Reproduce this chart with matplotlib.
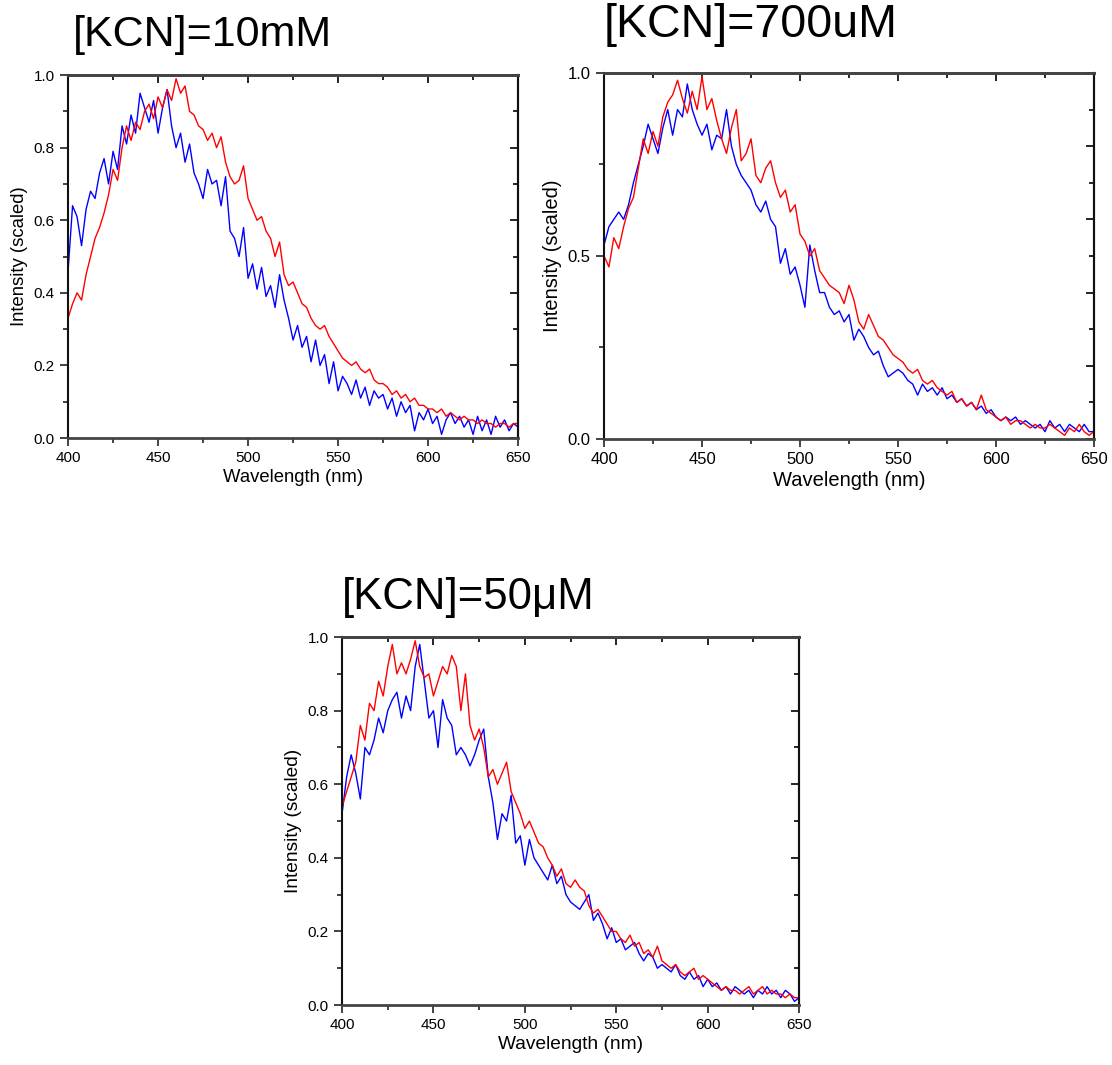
import numpy as np
import matplotlib
matplotlib.use("Agg")
import matplotlib.pyplot as plt
from matplotlib.ticker import MultipleLocator

plt.rcParams['font.family'] = ['Liberation Sans', 'DejaVu Sans']

# wavelength grid (nm), one sample every 2.5 nm
wavelength = np.arange(400, 650.1, 2.5)

# [KCN]=10mM
blue_10mM = [0.46, 0.64, 0.61, 0.53, 0.63, 0.68, 0.66, 0.73, 0.77, 0.70,
             0.79, 0.74, 0.86, 0.81, 0.89, 0.84, 0.95, 0.91, 0.87, 0.93,
             0.84, 0.91, 0.96, 0.86, 0.80, 0.84, 0.76, 0.81, 0.73, 0.70,
             0.66, 0.74, 0.70, 0.71, 0.64, 0.72, 0.57, 0.55, 0.50, 0.58,
             0.44, 0.48, 0.41, 0.47, 0.39, 0.42, 0.36, 0.45, 0.38, 0.33,
             0.27, 0.31, 0.25, 0.28, 0.21, 0.27, 0.20, 0.23, 0.15, 0.21,
             0.13, 0.17, 0.15, 0.12, 0.16, 0.11, 0.14, 0.09, 0.13, 0.11,
             0.12, 0.08, 0.11, 0.06, 0.10, 0.07, 0.09, 0.02, 0.07, 0.05,
             0.08, 0.04, 0.06, 0.01, 0.05, 0.07, 0.04, 0.06, 0.03, 0.05,
             0.01, 0.06, 0.02, 0.05, 0.01, 0.06, 0.03, 0.05, 0.02, 0.04,
             0.03]
red_10mM = [0.33, 0.37, 0.40, 0.38, 0.45, 0.50, 0.55, 0.58, 0.62, 0.67,
            0.74, 0.71, 0.80, 0.86, 0.82, 0.87, 0.85, 0.90, 0.92, 0.88,
            0.94, 0.91, 0.96, 0.93, 0.99, 0.95, 0.97, 0.90, 0.89, 0.86,
            0.85, 0.82, 0.84, 0.80, 0.83, 0.76, 0.72, 0.70, 0.71, 0.75,
            0.66, 0.63, 0.60, 0.61, 0.57, 0.55, 0.50, 0.54, 0.45, 0.42,
            0.43, 0.40, 0.37, 0.36, 0.33, 0.31, 0.30, 0.31, 0.28, 0.26,
            0.24, 0.22, 0.21, 0.20, 0.21, 0.19, 0.18, 0.19, 0.16, 0.15,
            0.15, 0.14, 0.12, 0.13, 0.11, 0.12, 0.10, 0.11, 0.09, 0.09,
            0.08, 0.08, 0.07, 0.08, 0.06, 0.07, 0.06, 0.05, 0.06, 0.05,
            0.05, 0.04, 0.05, 0.04, 0.04, 0.03, 0.04, 0.04, 0.03, 0.04,
            0.04]

# [KCN]=700uM
blue_700uM = [0.53, 0.58, 0.60, 0.62, 0.60, 0.64, 0.70, 0.75, 0.80, 0.86,
              0.82, 0.78, 0.85, 0.90, 0.83, 0.90, 0.88, 0.97, 0.90, 0.86,
              0.83, 0.86, 0.79, 0.83, 0.82, 0.90, 0.80, 0.75, 0.72, 0.70,
              0.68, 0.64, 0.62, 0.65, 0.60, 0.58, 0.48, 0.52, 0.45, 0.47,
              0.42, 0.36, 0.53, 0.46, 0.40, 0.40, 0.36, 0.34, 0.35, 0.32,
              0.34, 0.27, 0.30, 0.28, 0.25, 0.23, 0.24, 0.20, 0.17, 0.18,
              0.19, 0.18, 0.16, 0.15, 0.12, 0.15, 0.13, 0.14, 0.12, 0.14,
              0.11, 0.12, 0.10, 0.11, 0.09, 0.10, 0.08, 0.09, 0.07, 0.08,
              0.06, 0.05, 0.06, 0.05, 0.06, 0.04, 0.05, 0.04, 0.03, 0.04,
              0.02, 0.05, 0.03, 0.04, 0.02, 0.04, 0.03, 0.02, 0.04, 0.02,
              0.02]
red_700uM = [0.50, 0.47, 0.55, 0.52, 0.58, 0.63, 0.66, 0.74, 0.82, 0.78,
             0.84, 0.80, 0.88, 0.92, 0.94, 0.98, 0.93, 0.89, 0.95, 0.90,
             0.99, 0.90, 0.93, 0.87, 0.82, 0.78, 0.85, 0.90, 0.76, 0.78,
             0.82, 0.72, 0.70, 0.74, 0.76, 0.70, 0.66, 0.68, 0.62, 0.64,
             0.56, 0.54, 0.50, 0.52, 0.46, 0.44, 0.42, 0.41, 0.40, 0.37,
             0.42, 0.38, 0.32, 0.30, 0.34, 0.31, 0.28, 0.27, 0.25, 0.23,
             0.22, 0.21, 0.19, 0.18, 0.19, 0.16, 0.15, 0.16, 0.14, 0.13,
             0.12, 0.13, 0.10, 0.11, 0.09, 0.10, 0.08, 0.12, 0.08, 0.07,
             0.06, 0.05, 0.06, 0.04, 0.05, 0.05, 0.04, 0.03, 0.04, 0.03,
             0.03, 0.04, 0.03, 0.02, 0.01, 0.03, 0.02, 0.04, 0.02, 0.01,
             0.02]

# [KCN]=50uM
blue_50uM = [0.52, 0.62, 0.68, 0.63, 0.56, 0.70, 0.68, 0.72, 0.78, 0.74,
             0.80, 0.83, 0.85, 0.78, 0.84, 0.80, 0.92, 0.98, 0.88, 0.78,
             0.80, 0.70, 0.83, 0.78, 0.76, 0.68, 0.70, 0.68, 0.65, 0.68,
             0.72, 0.75, 0.62, 0.55, 0.45, 0.52, 0.50, 0.57, 0.44, 0.46,
             0.38, 0.45, 0.40, 0.38, 0.36, 0.34, 0.38, 0.33, 0.35, 0.30,
             0.28, 0.27, 0.26, 0.28, 0.30, 0.23, 0.25, 0.22, 0.18, 0.21,
             0.17, 0.18, 0.15, 0.16, 0.17, 0.14, 0.12, 0.14, 0.13, 0.10,
             0.11, 0.10, 0.09, 0.11, 0.08, 0.07, 0.09, 0.07, 0.08, 0.05,
             0.07, 0.05, 0.06, 0.04, 0.05, 0.03, 0.05, 0.04, 0.03, 0.04,
             0.02, 0.04, 0.03, 0.05, 0.03, 0.04, 0.02, 0.04, 0.03, 0.01,
             0.02]
red_50uM = [0.54, 0.58, 0.62, 0.66, 0.76, 0.72, 0.82, 0.80, 0.88, 0.84,
            0.92, 0.98, 0.90, 0.93, 0.90, 0.94, 0.99, 0.92, 0.89, 0.90,
            0.84, 0.88, 0.92, 0.90, 0.95, 0.92, 0.80, 0.90, 0.76, 0.72,
            0.75, 0.70, 0.62, 0.64, 0.60, 0.63, 0.66, 0.58, 0.55, 0.52,
            0.48, 0.50, 0.47, 0.44, 0.43, 0.40, 0.38, 0.35, 0.37, 0.33,
            0.32, 0.34, 0.32, 0.31, 0.27, 0.25, 0.26, 0.24, 0.22, 0.20,
            0.20, 0.18, 0.17, 0.19, 0.16, 0.17, 0.14, 0.15, 0.13, 0.16,
            0.12, 0.11, 0.10, 0.11, 0.09, 0.08, 0.09, 0.10, 0.07, 0.08,
            0.07, 0.06, 0.05, 0.04, 0.05, 0.04, 0.04, 0.03, 0.04, 0.05,
            0.03, 0.04, 0.05, 0.03, 0.04, 0.03, 0.03, 0.02, 0.03, 0.02,
            0.02]

titles = ["[KCN]=10mM", "[KCN]=700uM", "[KCN]=50\u03bcM"]


def style_axes(ax, ymajor, yminor, fs_tick, fs_label):
    ax.set_xlim(400, 650)
    ax.set_ylim(0, 1.0)
    ax.xaxis.set_major_locator(MultipleLocator(50))
    ax.xaxis.set_minor_locator(MultipleLocator(25))
    ax.yaxis.set_major_locator(MultipleLocator(ymajor))
    ax.yaxis.set_minor_locator(MultipleLocator(yminor))
    ax.tick_params(which="both", direction="out", top=False, right=False,
                   labelsize=fs_tick, width=1.2, color="#222222")
    ax.tick_params(which="major", length=6)
    ax.tick_params(which="minor", length=3.5)
    for side in ["left", "right"]:
        ax.spines[side].set_linewidth(1.5)
        ax.spines[side].set_color("#111111")
    for side in ["top", "bottom"]:
        ax.spines[side].set_linewidth(2.0)
        ax.spines[side].set_color("#444444")
    # top and right get inward ticks, no labels
    top = ax.secondary_xaxis("top")
    top.xaxis.set_major_locator(MultipleLocator(50))
    top.xaxis.set_minor_locator(MultipleLocator(25))
    top.tick_params(which="both", direction="in", labeltop=False, width=1.2)
    top.tick_params(which="major", length=6)
    top.tick_params(which="minor", length=3.5)
    top.spines["top"].set_linewidth(2.0)
    top.spines["top"].set_color("#444444")
    right = ax.secondary_yaxis("right")
    right.yaxis.set_major_locator(MultipleLocator(0.2))
    right.yaxis.set_minor_locator(MultipleLocator(0.1))
    right.tick_params(which="both", direction="in", labelright=False, width=1.2)
    right.tick_params(which="major", length=6)
    right.tick_params(which="minor", length=3.5)
    right.spines["right"].set_linewidth(1.5)
    ax.set_xlabel("Wavelength (nm)", fontsize=fs_label, labelpad=3)
    ax.set_ylabel("Intensity (scaled)", fontsize=fs_label, labelpad=4)


fig = plt.figure(figsize=(11.12, 10.65), dpi=100)

ax1 = fig.add_axes([0.0612, 0.5887, 0.4047, 0.3408])
ax1.plot(wavelength, blue_10mM, color="blue", lw=1.0)
ax1.plot(wavelength, red_10mM, color="red", lw=1.0)
style_axes(ax1, 0.2, 0.1, 11, 13.3)

ax2 = fig.add_axes([0.5432, 0.5878, 0.4406, 0.3437])
ax2.plot(wavelength, blue_700uM, color="blue", lw=1.0)
ax2.plot(wavelength, red_700uM, color="red", lw=1.0)
style_axes(ax2, 0.5, 0.25, 12, 14.5)

ax3 = fig.add_axes([0.3076, 0.0563, 0.411, 0.3455])
ax3.plot(wavelength, blue_50uM, color="blue", lw=1.0)
ax3.plot(wavelength, red_50uM, color="red", lw=1.0)
style_axes(ax3, 0.2, 0.1, 11, 13.8)

fig.text(0.0656, 0.967, titles[0], fontsize=31, va="center", ha="left")
fig.text(0.5432, 0.9765, titles[1], fontsize=33.5, va="center", ha="left")
fig.text(0.3076, 0.4394, titles[2], fontsize=31.5, va="center", ha="left")

fig.savefig("out.png", dpi=100)
